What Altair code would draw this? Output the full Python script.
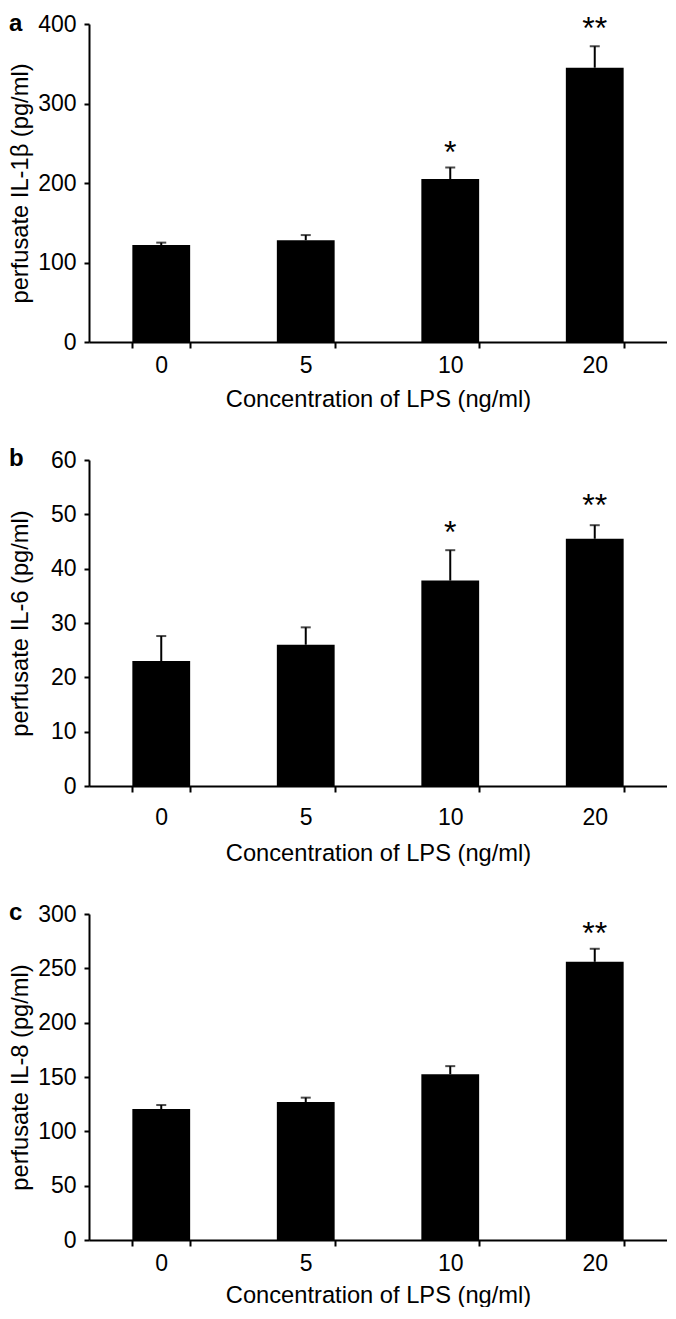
import altair as alt
import pandas as pd

conc = ["0", "5", "10", "20"]
x_title = "Concentration of LPS (ng/ml)"

# Panel a: IL-1beta
il1b_mean = [122, 128, 205, 345]
il1b_err = [3, 6.5, 14.5, 27]
il1b_star = ["", "", "*", "**"]
il1b_star_y = [0, 0, 238, 394]

# Panel b: IL-6
il6_mean = [23.0, 26.0, 37.8, 45.5]
il6_err = [4.6, 3.2, 5.6, 2.5]
il6_star = ["", "", "*", "**"]
il6_star_y = [0, 0, 46.5, 51.5]

# Panel c: IL-8
il8_mean = [120.5, 127, 152.5, 256]
il8_err = [3.7, 4, 7.5, 12]
il8_star = ["", "", "", "**"]
il8_star_y = [0, 0, 0, 281.5]


def panel(letter, ytitle, mean, err, star, star_y, ymax, ystep,
          width, height, y_tp, x_lp, x_tp, letter_x, letter_y):
    df = pd.DataFrame({
        "conc": conc,
        "mean": mean,
        "top": [m + e for m, e in zip(mean, err)],
        "star": star,
        "star_y": star_y,
    })
    base = alt.Chart(df)
    x = alt.X("conc:N", sort=conc,
              scale=alt.Scale(paddingInner=0.6, paddingOuter=0.3),
              axis=alt.Axis(title=x_title, labelAngle=0, tickBand="extent",
                            tickSize=6, labelPadding=x_lp, titlePadding=x_tp))
    yscale = alt.Scale(domain=[0, ymax], nice=False)
    yaxis = alt.Axis(title=ytitle, values=list(range(0, ymax + 1, ystep)),
                     tickSize=5, labelPadding=8, titlePadding=y_tp)
    bars = base.mark_bar(color="black").encode(
        x=x, y=alt.Y("mean:Q", scale=yscale, axis=yaxis, title=ytitle))
    rule = base.mark_rule(color="black", strokeWidth=2).encode(
        x=x, y=alt.Y("mean:Q", title=ytitle), y2="top:Q")
    cap = base.mark_tick(color="black", size=10, thickness=2).encode(
        x=x, y=alt.Y("top:Q", title=ytitle))
    stars = base.transform_filter("datum.star != ''").mark_text(
        fontSize=32, baseline="middle", color="black").encode(
        x=x, y=alt.Y("star_y:Q", title=ytitle), text="star:N")
    lab = alt.Chart(pd.DataFrame({"t": [letter]})).mark_text(
        fontWeight="bold", fontSize=24, align="left", baseline="alphabetic",
        color="black").encode(
        x=alt.value(letter_x), y=alt.value(letter_y), text="t:N")
    return alt.layer(bars, rule, cap, stars, lab).properties(width=width, height=height)


pa = panel("a", "perfusate IL-1β (pg/ml)", il1b_mean, il1b_err, il1b_star, il1b_star_y,
           400, 100, 578, 318, 5, 6, 10, -80, 7)
pb = panel("b", "perfusate IL-6 (pg/ml)", il6_mean, il6_err, il6_star, il6_star_y,
           60, 10, 578, 326, 17.8, 14, 12, -80, 6)
pc = panel("c", "perfusate IL-8 (pg/ml)", il8_mean, il8_err, il8_star, il8_star_y,
           300, 50, 578, 326, 5, 6, 8, -80, 6)

chart = alt.vconcat(pa, pb, pc, spacing=36).properties(
    padding={"top": 4, "left": 0, "right": 0, "bottom": 0}
).configure(
    font="Liberation Sans"
).configure_view(stroke=None).configure_axis(
    grid=False, domainColor="black", domainWidth=2, tickColor="black", tickWidth=2,
    labelColor="black", titleColor="black", labelFontSize=23, titleFontSize=23.7,
    titleFontWeight="normal", labelFont="Liberation Sans", titleFont="Liberation Sans"
)

chart.save("out.html", embed_options={"renderer": "svg", "actions": False})
